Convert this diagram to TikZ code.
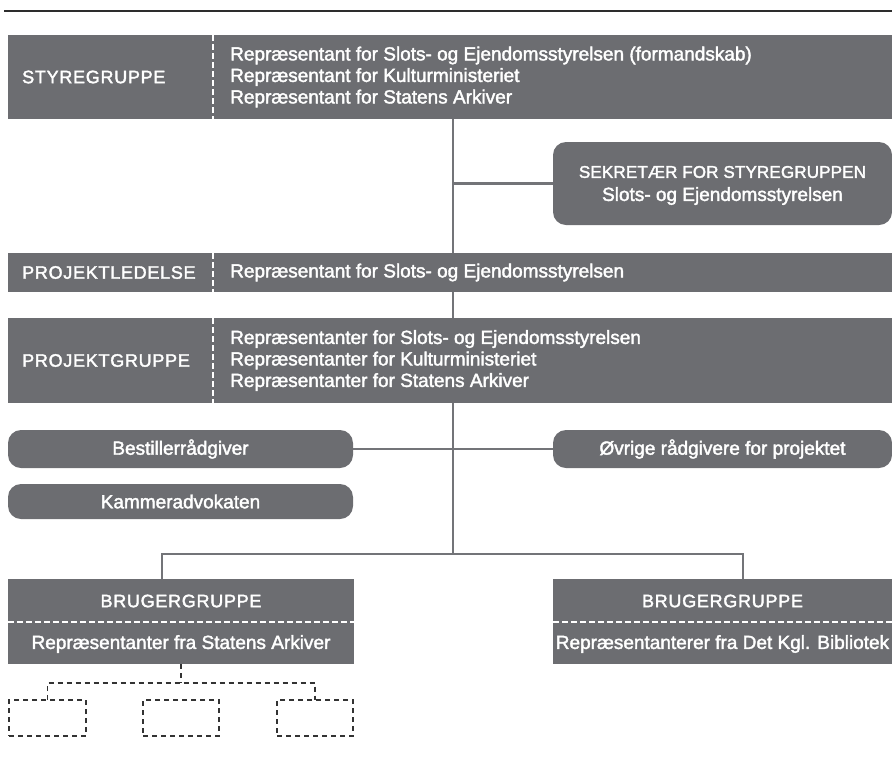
\documentclass[tikz,border=0pt]{standalone}
\usepackage{fontspec}
\setmainfont{Liberation Sans}[FakeBold=2]
\newfontfamily\headfont{Liberation Sans}[LetterSpace=4,FakeBold=2]
\newfontfamily\sekfont{Liberation Sans}[LetterSpace=1,FakeBold=2]
\definecolor{boxgray}{RGB}{108,109,113}
\definecolor{linegray}{RGB}{115,116,120}
\definecolor{rulegray}{RGB}{45,45,45}
\tikzset{
  bar/.style={fill=boxgray, draw=none, inner sep=0pt, outer sep=0pt},
  pill/.style={bar, rounded corners=13pt},
  head/.style={text=white, font=\headfont\fontsize{18}{20}\selectfont, inner sep=0pt},
  sekhead/.style={text=white, font=\sekfont\fontsize{17}{20}\selectfont, inner sep=0pt},
  body/.style={text=white, font=\fontsize{19}{21.5}\selectfont, inner sep=0pt, align=left},
  ctext/.style={text=white, font=\fontsize{19}{22}\selectfont, inner sep=0pt, align=center},
  divider/.style={draw=white, line width=2pt, dash pattern=on 6pt off 3pt},
  conn/.style={draw=linegray, line width=2.8pt},
  ghost/.style={draw=black!80, line width=1.3pt, dash pattern=on 5pt off 4pt},
  ghostbox/.style={ghost, fill=none, inner sep=0pt, outer sep=0pt},
  toprule/.style={draw=rulegray, line width=1.5pt},
}
\begin{document}
\begin{tikzpicture}[x=1pt,y=-1pt]
\useasboundingbox (0,0) rectangle (892,756);
% top rule
\coordinate (r1) at (4,11);
\coordinate (r2) at (892,11);
\draw[toprule] (r1) -- (r2);

% boxes
\node[bar, minimum width=884pt, minimum height=84pt] (sty) at (450,77) {};
\node[pill, minimum width=339pt, minimum height=83pt] (sek) at (722.5,183.5) {};
\node[bar, minimum width=884pt, minimum height=39pt] (pl) at (450,272.5) {};
\node[bar, minimum width=884pt, minimum height=85pt] (pg) at (450,360.5) {};
\node[pill, minimum width=345pt, minimum height=38pt] (best) at (180.5,449) {};
\node[pill, minimum width=339pt, minimum height=38pt] (ovr) at (722.5,449) {};
\node[pill, minimum width=345pt, minimum height=35pt] (kam) at (180.5,501.5) {};
\node[bar, minimum width=346pt, minimum height=85pt] (bg1) at (181,621.5) {};
\node[bar, minimum width=339pt, minimum height=85pt] (bg2) at (722.5,621.5) {};
\node[ghostbox, draw, minimum width=77pt, minimum height=36pt] (g1) at (47.5,718) {};
\node[ghostbox, draw, minimum width=76pt, minimum height=36pt] (g2) at (181,718) {};
\node[ghostbox, draw, minimum width=76pt, minimum height=36pt] (g3) at (315,718) {};

% dividers
\coordinate (dx) at (213,0);
\draw[divider] (sty.north -| dx) -- (sty.south -| dx);
\draw[divider] (pl.north -| dx) -- (pl.south -| dx);
\draw[divider] (pg.north -| dx) -- (pg.south -| dx);
\draw[divider] (bg1.west) -- (bg1.east);
\draw[divider] (bg2.west) -- (bg2.east);

% connectors
\coordinate (tx) at (453,0);
\coordinate (br) at (453,554);
\coordinate (bl) at (162,554);
\coordinate (brr) at (743,554);
\draw[conn] (sty.south -| tx) -- (pl.north -| tx);
\draw[conn] (sek.west) -- (sek.west -| tx);
\draw[conn] (pl.south -| tx) -- (pg.north -| tx);
\draw[conn] (pg.south -| tx) -- (br);
\draw[conn] (best.east) -- (ovr.west);
\draw[conn] (bg1.north -| bl) -- (bl) -- (brr) -- (bg2.north -| brr);

% ghost tree
\coordinate (gy) at (0,683);
\draw[ghost] (bg1.south) -- (bg1.south |- gy);
\draw[ghost] (g1.north) -- (g1.north |- gy) -- (g3.north |- gy) -- (g3.north);

% texts
\node[head, anchor=west] (styh) at (22,77) {STYREGRUPPE};
\node[body, anchor=west] (styt) at (230,77) {Repræsentant for Slots- og Ejendomsstyrelsen (formandskab)\\Repræsentant for Kulturministeriet\\Repræsentant for Statens Arkiver};
\node[sekhead] (sekh) at (722.5,172) {SEKRETÆR FOR STYREGRUPPEN};
\node[ctext] (sekt) at (722.5,196) {Slots- og Ejendomsstyrelsen};
\node[head, anchor=west] (plh) at (22,272.5) {PROJEKTLEDELSE};
\node[body, anchor=west] (plt) at (230,272.5) {Repræsentant for Slots- og Ejendomsstyrelsen};
\node[head, anchor=west] (pgh) at (22,360.5) {PROJEKTGRUPPE};
\node[body, anchor=west] (pgt) at (230,360.5) {Repræsentanter for Slots- og Ejendomsstyrelsen\\Repræsentanter for Kulturministeriet\\Repræsentanter for Statens Arkiver};
\node[ctext] (bestt) at (best) {Bestillerrådgiver};
\node[ctext] (ovrt) at (ovr) {Øvrige rådgivere for projektet};
\node[ctext] (kamt) at (kam) {Kammeradvokaten};
\node[head] (bg1h) at (181,601) {BRUGERGRUPPE};
\node[ctext] (bg1t) at (181,644) {Repræsentanter fra Statens Arkiver};
\node[head] (bg2h) at (722.5,601) {BRUGERGRUPPE};
\node[ctext] (bg2t) at (722.5,644) {Repræsentanterer fra Det Kgl. Bibliotek};
\end{tikzpicture}
\end{document}
